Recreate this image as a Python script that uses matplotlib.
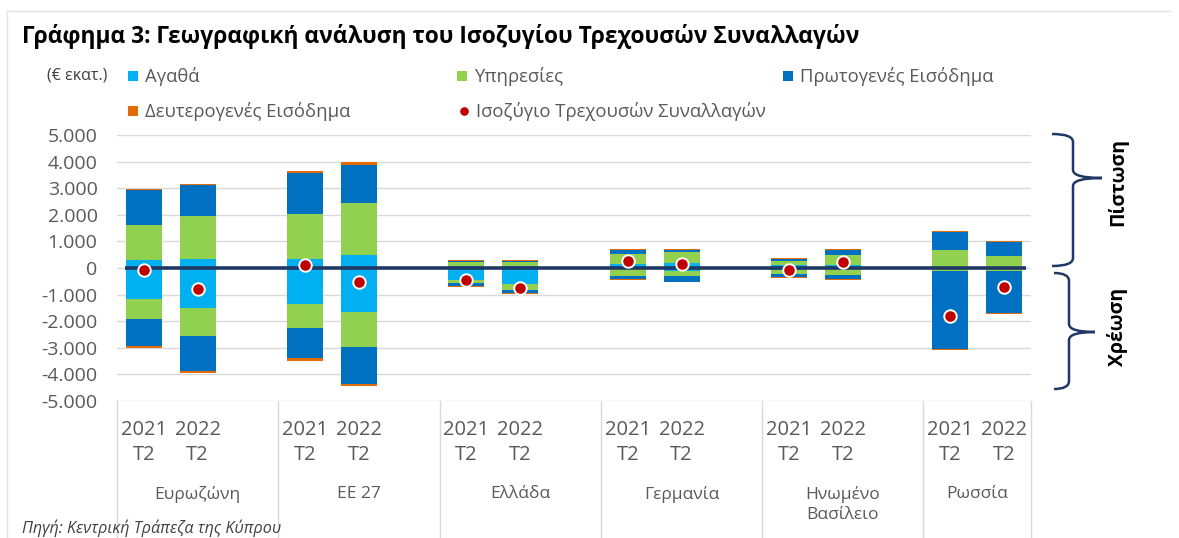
import numpy as np
import matplotlib
matplotlib.use("Agg")
import matplotlib.pyplot as plt
from matplotlib.lines import Line2D
from matplotlib.path import Path
from matplotlib.patches import PathPatch
import matplotlib.transforms as mtransforms

plt.rcParams['font.family'] = ['Open Sans', 'DejaVu Sans']

# ---- data (€ εκατ.) ----
regions = ['Ευρωζώνη', 'ΕΕ 27', 'Ελλάδα', 'Γερμανία', 'Ηνωμένο\nΒασίλειο', 'Ρωσσία']
periods = ['2021', '2022']
quarter = 'T2'

goods_pos     = [300, 340, 340, 475, 75, 75, 150, 190, 100, 100, 0, 0]
goods_neg     = [-1175, -1500, -1350, -1660, -450, -590, -20, -100, -60, -50, 0, 0]
services_pos  = [1310, 1600, 1700, 1985, 150, 160, 360, 400, 160, 400, 675, 435]
services_neg  = [-735, -1040, -910, -1300, -120, -250, -270, -210, -150, -220, -100, -100]
primary_pos   = [1310, 1185, 1550, 1400, 40, 20, 165, 85, 75, 170, 660, 550]
primary_neg   = [-1030, -1335, -1130, -1400, -90, -100, -110, -200, -110, -150, -2940, -1585]
secondary_pos = [40, 40, 50, 130, 30, 30, 40, 40, 35, 40, 40, 40]
secondary_neg = [-60, -65, -120, -90, -40, -50, -40, -25, -40, -40, -40, -40]
balance       = [-75, -775, 110, -525, -450, -760, 250, 150, -75, 210, -1790, -725]

series = [
    ('Αγαθά', goods_pos, goods_neg, '#00B0F0'),
    ('Υπηρεσίες', services_pos, services_neg, '#92D050'),
    ('Πρωτογενές Εισόδημα', primary_pos, primary_neg, '#0070C0'),
    ('Δευτερογενές Εισόδημα', secondary_pos, secondary_neg, '#E36C09'),
]

W, H = 1179, 538
fig = plt.figure(figsize=(W / 100, H / 100), dpi=100)
ax = fig.add_axes([117 / W, 1 - 401 / H, (1031 - 117) / W, (401 - 135) / H])

def fx(px):
    return px / W

def fy(py):
    return 1 - py / H

# slots: two bars per region, one empty slot between regions
n_reg = len(regions)
xpos = []
for r in range(n_reg):
    xpos += [3 * r, 3 * r + 1]
xpos = np.array(xpos)

bottom_p = np.zeros(len(xpos))
bottom_n = np.zeros(len(xpos))
for name, pos, neg, col in series:
    ax.bar(xpos, pos, bottom=bottom_p, width=0.67, color=col, zorder=3)
    ax.bar(xpos, neg, bottom=bottom_n, width=0.67, color=col, zorder=3)
    bottom_p += np.array(pos)
    bottom_n += np.array(neg)

ax.hlines(0, -0.35, 3 * n_reg - 1.6, color='#1F3864', lw=2.6, zorder=4)
ax.plot(xpos, balance, 'o', ms=9, color='#C00000', mec='white', mew=1.4, zorder=5)

ax.set_xlim(-0.5, 3 * n_reg - 1.5)
ax.set_ylim(-5000, 5000)
ax.set_yticks(np.arange(-5000, 5001, 1000))
ax.set_yticklabels([f"{v:,.0f}".replace(',', '.') for v in np.arange(-5000, 5001, 1000)])
ax.tick_params(axis='y', length=0, pad=14, labelsize=14, labelcolor='#595959')
ax.set_xticks([])
ax.grid(axis='y', color='#D9D9D9', lw=1, zorder=0)
for s in ax.spines.values():
    s.set_visible(False)

# category axis (two levels)
trans = mtransforms.blended_transform_factory(ax.transData, ax.transAxes)
ah = 401 - 135
for i, x in enumerate(xpos):
    ax.text(x, -(430 - 401) / ah, periods[i % 2], transform=trans, ha='center', va='center',
            fontsize=14.5, color='#595959')
    ax.text(x, -(455 - 401) / ah, quarter, transform=trans, ha='center', va='center',
            fontsize=14.5, color='#595959')
for r, name in enumerate(regions):
    left = 3 * r - 0.5
    right = min(3 * r + 2.5, 3 * n_reg - 1.5)
    ax.text((left + right) / 2, -(486 - 401) / ah, name, transform=trans, ha='center',
            va='top', fontsize=12.5, color='#595959', linespacing=1.35)
seps = [3 * r - 0.5 for r in range(n_reg)] + [3 * n_reg - 1.5]
for s in seps:
    ax.plot([s, s], [0, -(H - 401) / ah], transform=trans, color='#D9D9D9', lw=1,
            clip_on=False)

# title, frame, source
fig.add_artist(Line2D([fx(7), fx(1170)], [fy(11), fy(11)], color='#E3E3EA', lw=1))
fig.add_artist(Line2D([fx(7), fx(7)], [fy(11), 0], color='#E3E3EA', lw=1))
fig.text(fx(22), fy(37), 'Γράφημα 3: Γεωγραφική ανάλυση του Ισοζυγίου Τρεχουσών Συναλλαγών',
         fontsize=16.4, fontweight='bold', ha='left', va='center', color='black')
fig.text(fx(22), fy(528), 'Πηγή: Κεντρική Τράπεζα της Κύπρου', fontsize=11.6,
         style='italic', ha='left', va='center', color='#404040')

# legend
fig.text(fx(47), fy(76), '(€ εκατ.)', fontsize=11.5, ha='left', va='center', color='#404040')
legend_items = [
    ('Αγαθά', '#00B0F0', 's', 133, 76),
    ('Υπηρεσίες', '#92D050', 's', 462, 76),
    ('Πρωτογενές Εισόδημα', '#0070C0', 's', 788, 76),
    ('Δευτερογενές Εισόδημα', '#E36C09', 's', 133, 111),
    ('Ισοζύγιο Τρεχουσών Συναλλαγών', '#C00000', 'o', 464, 111),
]
for label, col, mk, lx, ly in legend_items:
    fig.add_artist(Line2D([fx(lx)], [fy(ly)], marker=mk, ms=7,
                          color=col, mec='white' if mk == 'o' else col, mew=0.8 if mk == 'o' else 0,
                          ls='none'))
    fig.text(fx(lx + 12), fy(ly), label, fontsize=13.3, ha='left', va='center',
             color='#595959')

# braces on the right
def brace(x_end, x_sp, x_tip, y_top, y_bot, y_tip, r=8):
    pts = [(x_end, y_top), (x_sp, y_top), (x_sp, y_top + r),
           (x_sp, y_tip - r),
           (x_sp, y_tip), (x_tip, y_tip),
           (x_sp, y_tip), (x_sp, y_tip + r),
           (x_sp, y_bot - r),
           (x_sp, y_bot), (x_end, y_bot)]
    codes = [Path.MOVETO, Path.CURVE3, Path.CURVE3, Path.LINETO,
             Path.CURVE3, Path.CURVE3, Path.CURVE3, Path.CURVE3,
             Path.LINETO, Path.CURVE3, Path.CURVE3]
    verts = [(fx(a), fy(b)) for a, b in pts]
    fig.add_artist(PathPatch(Path(verts, codes), transform=fig.transFigure,
                             fill=False, ec='#1F3864', lw=1.8))

brace(1052, 1073, 1102, 134, 266, 178)
brace(1054, 1069, 1095, 273, 389, 332)
fig.text(fx(1118), fy(182), 'Πίστωση', rotation=90, fontsize=14, fontweight='bold',
         ha='center', va='center')
fig.text(fx(1118), fy(327), 'Χρέωση', rotation=90, fontsize=14, fontweight='bold',
         ha='center', va='center')

fig.savefig('out.png', dpi=100)
